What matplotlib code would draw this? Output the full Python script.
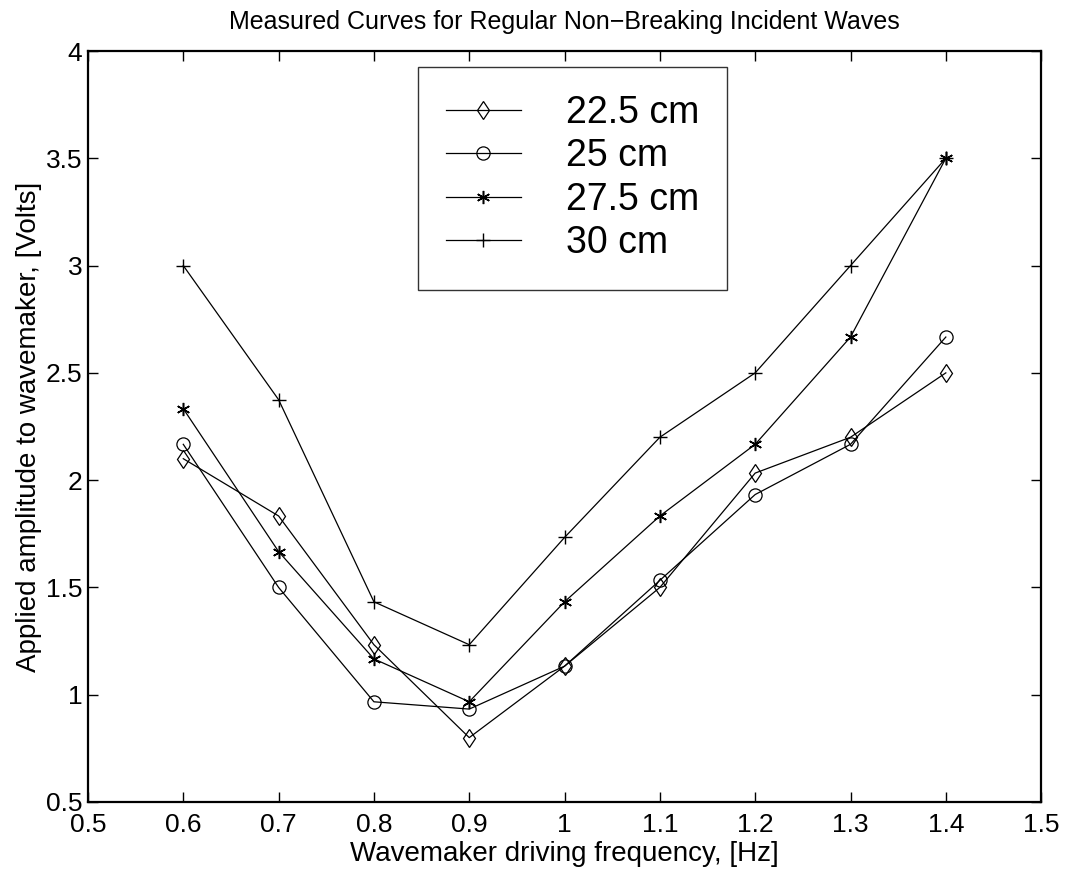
import matplotlib
matplotlib.use("Agg")
import matplotlib.pyplot as plt

plt.rcParams["font.family"] = ["Liberation Sans", "DejaVu Sans"]

# Wavemaker driving frequency [Hz]
freq = [0.6, 0.7, 0.8, 0.9, 1.0, 1.1, 1.2, 1.3, 1.4]

# Applied amplitude [Volts] per wave height
amp_22_5 = [2.1, 1.833, 1.233, 0.8, 1.133, 1.5, 2.033, 2.2, 2.5]
amp_25 = [2.167, 1.5, 0.967, 0.933, 1.133, 1.533, 1.933, 2.167, 2.667]
amp_27_5 = [2.333, 1.667, 1.167, 0.967, 1.433, 1.833, 2.167, 2.667, 3.5]
amp_30 = [3.0, 2.375, 1.433, 1.233, 1.733, 2.2, 2.5, 3.0, 3.5]

labels = ["22.5 cm", "25 cm", "27.5 cm", "30 cm"]

x_ticks = [0.5, 0.6, 0.7, 0.8, 0.9, 1.0, 1.1, 1.2, 1.3, 1.4, 1.5]
x_tick_labels = ["0.5", "0.6", "0.7", "0.8", "0.9", "1", "1.1", "1.2", "1.3", "1.4", "1.5"]
y_ticks = [0.5, 1, 1.5, 2, 2.5, 3, 3.5, 4]
y_tick_labels = ["0.5", "1", "1.5", "2", "2.5", "3", "3.5", "4"]

fig = plt.figure(figsize=(10.65, 8.74), dpi=100)
ax = fig.add_axes([0.0826, 0.0824, 0.895, 0.8592])

lw = 0.9
ax.plot(freq, amp_22_5, color="black", lw=lw, marker="d", ms=9.5,
        mfc="none", mec="black", mew=0.9, label=labels[0])
ax.plot(freq, amp_25, color="black", lw=lw, marker="o", ms=9.5,
        mfc="none", mec="black", mew=0.9, label=labels[1])
ax.plot(freq, amp_27_5, color="black", lw=lw, marker=(6, 2, 0), ms=9.5,
        mec="black", mew=1.1, label=labels[2])
ax.plot(freq, amp_30, color="black", lw=lw, marker="+", ms=9.5,
        mec="black", mew=1.0, label=labels[3])

ax.set_xlim(0.5, 1.5)
ax.set_ylim(0.5, 4)
ax.set_xticks(x_ticks)
ax.set_xticklabels(x_tick_labels)
ax.set_yticks(y_ticks)
ax.set_yticklabels(y_tick_labels)

ax.tick_params(direction="in", length=7, width=1.0, top=True, right=True,
               labelsize=19)
ax.tick_params(axis="x", pad=8)
ax.tick_params(axis="y", pad=4)
for s in ax.spines.values():
    s.set_linewidth(1.6)

ax.set_title("Measured Curves for Regular Non\u2212Breaking Incident Waves",
             fontsize=18, pad=16)
ax.set_xlabel("Wavemaker driving frequency, [Hz]", fontsize=20, labelpad=3)
ax.set_ylabel("Applied amplitude to wavemaker, [Volts]", fontsize=20, labelpad=3)

leg = ax.legend(loc="upper left", bbox_to_anchor=(0.346, 0.979), fontsize=27,
                frameon=True, fancybox=False, edgecolor="black",
                handlelength=2.0, handletextpad=1.2, labelspacing=0.2,
                borderpad=0.75, borderaxespad=0)
leg.get_frame().set_linewidth(1.0)

fig.savefig("out.png", dpi=100)
